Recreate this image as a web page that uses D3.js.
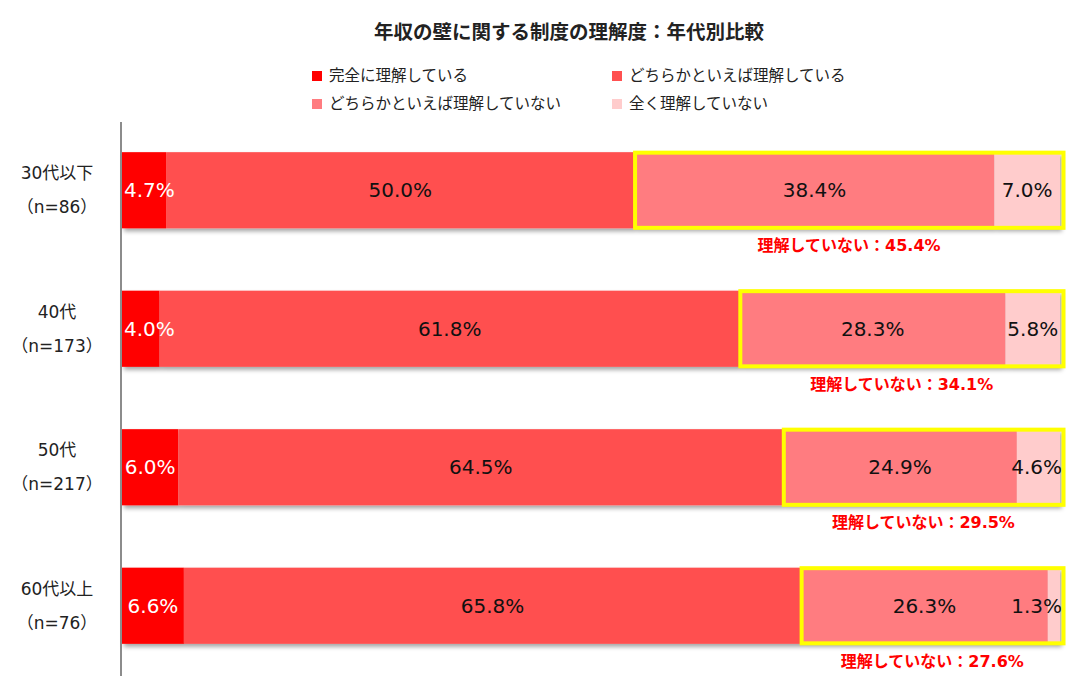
<!DOCTYPE html>
<html>
<head>
<meta charset="utf-8">
<script src="https://cdn.jsdelivr.net/npm/d3@7"></script>
<style>
  body { margin: 0; background: #fff; }
  svg text { font-family: "DejaVu Sans", "Noto Sans CJK JP", sans-serif; }
</style>
</head>
<body>
<svg id="chart" width="1068" height="676"></svg>
<script>
const categories = ['30代以下', '40代', '50代', '60代以上'];
const sampleSizes = ['（n=86）', '（n=173）', '（n=217）', '（n=76）'];
const seriesNames = ['完全に理解している', 'どちらかといえば理解している', 'どちらかといえば理解していない', '全く理解していない'];
const fullyUnderstand = [4.7, 4.0, 6.0, 6.6];
const ratherUnderstand = [50.0, 61.8, 64.5, 65.8];
const ratherNot = [38.4, 28.3, 24.9, 26.3];
const notAtAll = [7.0, 5.8, 4.6, 1.3];
const notUnderstandTotal = [45.4, 34.1, 29.5, 27.6];

const colors = ['#ff0000', '#ff5050', '#ff7c80', '#ffcccc'];
const textColors = ['#fff', '#111', '#111', '#111'];

const svg = d3.select('#chart');
const left = 122, right = 1060;

// 100% stacked like the original, so each row is normalised
const rows = categories.map((c, i) => {
  const vals = [fullyUnderstand[i], ratherUnderstand[i], ratherNot[i], notAtAll[i]];
  const total = d3.sum(vals);
  let acc = 0;
  const segs = vals.map((v, k) => {
    const s = { k, v, x0: acc / total, x1: (acc + v) / total };
    acc += v;
    return s;
  });
  return { cat: c, n: sampleSizes[i], segs, not: notUnderstandTotal[i] };
});

const x = d3.scaleLinear().domain([0, 1]).range([left, right]);
const y = d3.scaleBand().domain(categories).range([121, 675]).paddingInner(0.45).paddingOuter(0.225);

const defs = svg.append('defs');
const f = defs.append('filter').attr('id', 'shadow').attr('x', '-5%').attr('y', '-20%').attr('width', '115%').attr('height', '150%');
f.append('feDropShadow').attr('dx', 2).attr('dy', 3).attr('stdDeviation', 2).attr('flood-color', '#000').attr('flood-opacity', 0.35);

// title
svg.append('text')
  .attr('x', 569).attr('y', 39)
  .attr('text-anchor', 'middle')
  .attr('font-size', 19.5).attr('font-weight', 'bold').attr('fill', '#222')
  .text('年収の壁に関する制度の理解度：年代別比較');

// legend
const legendPos = [[312, 76], [612, 76], [312, 104], [612, 104]];
seriesNames.forEach((name, k) => {
  const g = svg.append('g').attr('transform', `translate(${legendPos[k][0]},${legendPos[k][1]})`);
  g.append('rect').attr('x', 0).attr('y', -5).attr('width', 10).attr('height', 10).attr('fill', colors[k]);
  g.append('text').attr('x', 17).attr('y', 0).attr('dy', '0.35em')
    .attr('font-size', 15.5).attr('fill', '#222').text(name);
});

// bars
const rowG = svg.selectAll('g.row').data(rows).join('g').attr('class', 'row');

rowG.append('g').attr('filter', 'url(#shadow)')
  .selectAll('rect').data(d => d.segs.map(s => ({ ...s, cat: d.cat })))
  .join('rect')
  .attr('x', s => x(s.x0))
  .attr('y', s => y(s.cat))
  .attr('width', s => x(s.x1) - x(s.x0))
  .attr('height', y.bandwidth())
  .attr('fill', s => colors[s.k]);

// value labels
rowG.each(function (d) {
  const g = d3.select(this);
  const cy = y(d.cat) + y.bandwidth() / 2;
  d.segs.forEach(s => {
    const t = g.append('text')
      .attr('y', cy).attr('dy', '0.36em')
      .attr('text-anchor', 'middle')
      .attr('font-size', 20)
      .attr('fill', textColors[s.k])
      .text(s.v.toFixed(1) + '%');
    const w = t.node().getComputedTextLength();
    let cx = (x(s.x0) + x(s.x1)) / 2;
    cx = Math.max(cx, left + w / 2 + 2);
    cx = Math.min(cx, right + 2 - w / 2);
    t.attr('x', cx);
  });

  // yellow frame around the "not understand" part
  const bx = x(d.segs[2].x0);
  g.append('rect')
    .attr('x', bx + 0.5).attr('y', y(d.cat) + 0.5)
    .attr('width', right + 3.5 - bx - 0.5).attr('height', y.bandwidth() - 1)
    .attr('fill', 'none').attr('stroke', '#ffff00').attr('stroke-width', 4);

  g.append('text')
    .attr('x', (bx + right + 3.5) / 2)
    .attr('y', y(d.cat) + y.bandwidth() + 23)
    .attr('text-anchor', 'middle')
    .attr('font-size', 16).attr('font-weight', 'bold').attr('fill', '#ff0000')
    .text('理解していない：' + d.not.toFixed(1) + '%');

  // category labels
  g.append('text').attr('x', 57).attr('y', cy - 17).attr('dy', '0.35em')
    .attr('text-anchor', 'middle').attr('font-size', 17).attr('fill', '#222').text(d.cat);
  g.append('text').attr('x', 57).attr('y', cy + 17).attr('dy', '0.35em')
    .attr('text-anchor', 'middle').attr('font-size', 17).attr('fill', '#222').text(d.n);
});

// category axis line
svg.append('line')
  .attr('x1', 121).attr('x2', 121).attr('y1', 122).attr('y2', 676)
  .attr('stroke', '#8c8c8c').attr('stroke-width', 2);
</script>
</body>
</html>
